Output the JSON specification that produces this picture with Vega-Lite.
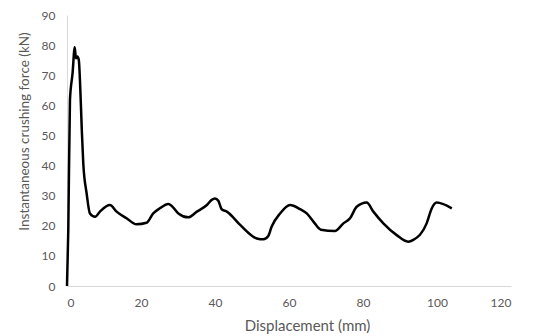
{
  "$schema": "https://vega.github.io/schema/vega-lite/v6.json",
  "width": 444,
  "height": 271,
  "autosize": {"type": "none"},
  "padding": {"left": 67, "top": 15, "right": 25, "bottom": 50},
  "background": "white",
  "config": {"view": {"stroke": null}, "font": "Lato"},
  "data": {"values": [
    {"d": 0, "f": 0},
    {"d": 0.35, "f": 18.6},
    {"d": 0.8, "f": 61.8},
    {"d": 1.5, "f": 70.6},
    {"d": 2.1, "f": 79.3},
    {"d": 2.4, "f": 75.6},
    {"d": 2.8, "f": 76.2},
    {"d": 3.2, "f": 75},
    {"d": 3.5, "f": 68.4},
    {"d": 4.0, "f": 51.8},
    {"d": 4.4, "f": 40.7},
    {"d": 5.3, "f": 30.8},
    {"d": 6.2, "f": 24.1},
    {"d": 7.6, "f": 23},
    {"d": 8.9, "f": 24.7},
    {"d": 11.6, "f": 26.9},
    {"d": 13.4, "f": 24.7},
    {"d": 16.1, "f": 22.5},
    {"d": 18.8, "f": 20.5},
    {"d": 21.5, "f": 21},
    {"d": 23.3, "f": 24.1},
    {"d": 25.1, "f": 25.8},
    {"d": 27.4, "f": 27.2},
    {"d": 28.3, "f": 26.6},
    {"d": 30.1, "f": 24.1},
    {"d": 32.8, "f": 22.8},
    {"d": 35.1, "f": 24.7},
    {"d": 37.8, "f": 26.9},
    {"d": 39.1, "f": 28.6},
    {"d": 40, "f": 29.1},
    {"d": 40.9, "f": 28.3},
    {"d": 41.8, "f": 25.5},
    {"d": 43.2, "f": 24.7},
    {"d": 46.8, "f": 20.3},
    {"d": 51.3, "f": 15.8},
    {"d": 53.1, "f": 15.5},
    {"d": 54.4, "f": 16.6},
    {"d": 55.3, "f": 19.7},
    {"d": 57.6, "f": 24.1},
    {"d": 60.3, "f": 26.9},
    {"d": 63, "f": 25.5},
    {"d": 64.8, "f": 24.1},
    {"d": 66.6, "f": 21.4},
    {"d": 68.6, "f": 18.7},
    {"d": 72.4, "f": 18.3},
    {"d": 74.7, "f": 20.8},
    {"d": 76.5, "f": 22.5},
    {"d": 78.3, "f": 26.3},
    {"d": 81, "f": 27.7},
    {"d": 82.8, "f": 24.7},
    {"d": 85.5, "f": 20.8},
    {"d": 89.1, "f": 16.9},
    {"d": 92.2, "f": 14.7},
    {"d": 93.6, "f": 15.3},
    {"d": 97.2, "f": 20.8},
    {"d": 98.6, "f": 25.8},
    {"d": 99.9, "f": 27.7},
    {"d": 101.7, "f": 27.2},
    {"d": 104, "f": 25.8}
  ]},
  "mark": {"type": "line", "color": "black", "strokeWidth": 2.5, "interpolate": "monotone"},
  "encoding": {
    "x": {
      "field": "d", "type": "quantitative",
      "scale": {"domain": [0, 120], "nice": false},
      "axis": {
        "title": "Displacement (mm)", "values": [0, 20, 40, 60, 80, 100, 120],
        "grid": false, "ticks": false, "domainColor": "#d9d9d9", "domainWidth": 1,
        "labelColor": "#595959", "labelFontSize": 12, "labelPadding": 11,
        "titleColor": "#595959", "titleFontSize": 15, "titleFontWeight": "normal",
        "titleX": 240, "titleY": 44, "titleAlign": "center", "titleBaseline": "alphabetic"
      }
    },
    "y": {
      "field": "f", "type": "quantitative",
      "scale": {"domain": [0, 90], "nice": false},
      "axis": {
        "title": "Instantaneous crushing force (kN)", "values": [0, 10, 20, 30, 40, 50, 60, 70, 80, 90],
        "grid": false, "ticks": false, "domainColor": "#d9d9d9", "domainWidth": 1,
        "labelColor": "#595959", "labelFontSize": 12, "labelPadding": 12,
        "titleColor": "#595959", "titleFontSize": 13.5, "titleFontWeight": "normal",
        "titleAngle": -90, "titleX": -39, "titleY": 116, "titleAlign": "center", "titleBaseline": "alphabetic"
      }
    }
  }
}
